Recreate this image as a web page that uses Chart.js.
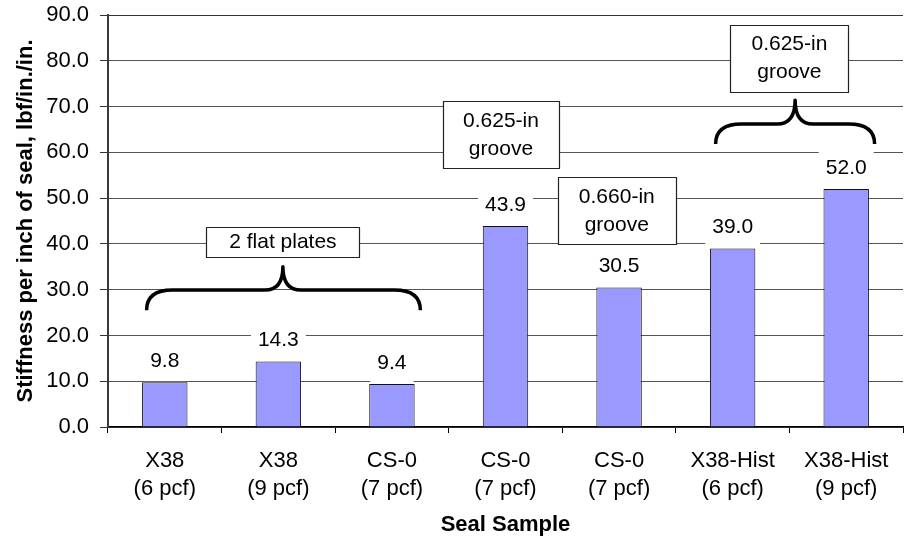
<!DOCTYPE html>
<html>
<head>
<meta charset="utf-8">
<script src="https://cdn.jsdelivr.net/npm/chart.js@4.4.1/dist/chart.umd.min.js"></script>
<style>
  html, body { margin: 0; padding: 0; background: #fff; }
  #wrap { width: 904px; height: 539px; }
</style>
</head>
<body>
<div id="wrap"><canvas id="chart"></canvas></div>
<script>
// Chart data
const categories = [
    ['X38', '(6 pcf)'],
    ['X38', '(9 pcf)'],
    ['CS-0', '(7 pcf)'],
    ['CS-0', '(7 pcf)'],
    ['CS-0', '(7 pcf)'],
    ['X38-Hist', '(6 pcf)'],
    ['X38-Hist', '(9 pcf)']
];
const stiffness = [9.8, 14.3, 9.4, 43.9, 30.5, 39.0, 52.0];
const yMin = 0;
const yMax = 90;
const yStep = 10;

// Text boxes and braces (x in category units, y in axis units)
const notes = [
    { lines: ['2 flat plates'], x: 1.04, y: 40.4, w: 153, h: 30 },
    { lines: ['0.625-in', 'groove'], x: 2.96, y: 63.8, w: 116, h: 67 },
    { lines: ['0.660-in', 'groove'], x: 3.98, y: 47.2, w: 118, h: 67 },
    { lines: ['0.625-in', 'groove'], x: 5.5, y: 80.6, w: 118, h: 67 }
];
const braces = [
    { from: -0.16, to: 2.25, tip: 1.04, yEnd: 25.5, yMid: 29.9, yTip: 35.0 },
    { from: 4.85, to: 6.25, tip: 5.55, yEnd: 61.8, yMid: 66.2, yTip: 71.4 }
];

const FONT = "'Liberation Sans', Arial, sans-serif";

// Value labels above bars, on a white patch that hides the gridlines
const valueLabels = {
    id: 'valueLabels',
    afterDatasetsDraw(chart) {
        const ctx = chart.ctx;
        const meta = chart.getDatasetMeta(0);
        ctx.save();
        ctx.font = '21px ' + FONT;
        ctx.textAlign = 'center';
        ctx.textBaseline = 'middle';
        meta.data.forEach((bar, i) => {
            const txt = stiffness[i].toFixed(1);
            const w = ctx.measureText(txt).width + 14;
            ctx.fillStyle = '#fff';
            ctx.fillRect(bar.x - w / 2, bar.y - 40, w, 39);
            ctx.fillStyle = '#000';
            ctx.fillText(txt, bar.x, bar.y - 21);
        });
        ctx.restore();
    }
};

const notesPlugin = {
    id: 'notes',
    afterDraw(chart) {
        const ctx = chart.ctx;
        const xs = chart.scales.x, ys = chart.scales.y;
        ctx.save();

        // braces
        ctx.strokeStyle = '#000';
        ctx.lineWidth = 3.5;
        ctx.lineJoin = 'round';
        braces.forEach(b => {
            const x0 = xs.getPixelForValue(b.from);
            const x1 = xs.getPixelForValue(b.to);
            const xt = xs.getPixelForValue(b.tip);
            const yE = ys.getPixelForValue(b.yEnd);
            const yM = ys.getPixelForValue(b.yMid);
            const yT = ys.getPixelForValue(b.yTip);
            ctx.beginPath();
            ctx.moveTo(x0, yE);
            ctx.quadraticCurveTo(x0, yM, x0 + 26, yM);
            ctx.lineTo(xt - 18, yM);
            ctx.quadraticCurveTo(xt, yM, xt, yT);
            ctx.quadraticCurveTo(xt, yM, xt + 18, yM);
            ctx.lineTo(x1 - 26, yM);
            ctx.quadraticCurveTo(x1, yM, x1, yE);
            ctx.stroke();
        });

        // boxes
        ctx.font = '21px ' + FONT;
        ctx.textAlign = 'center';
        ctx.textBaseline = 'middle';
        ctx.lineWidth = 1.2;
        notes.forEach(n => {
            const cx = xs.getPixelForValue(n.x);
            const cy = ys.getPixelForValue(n.y);
            const left = Math.round(cx - n.w / 2) + 0.5;
            const top = Math.round(cy - n.h / 2) + 0.5;
            ctx.fillStyle = '#fff';
            ctx.fillRect(left, top, n.w, n.h);
            ctx.strokeStyle = '#222';
            ctx.strokeRect(left, top, n.w, n.h);
            ctx.fillStyle = '#000';
            const lh = 28;
            const startY = cy - (n.lines.length - 1) * lh / 2;
            n.lines.forEach((t, k) => ctx.fillText(t, cx, startY + k * lh));
        });
        ctx.restore();
    }
};

// keep the plot box where the reference has it
const noPad = scale => {
    scale.paddingTop = 0;
    scale.paddingBottom = 0;
    scale.paddingLeft = 0;
    scale.paddingRight = 0;
};

new Chart(document.getElementById('chart'), {
    type: 'bar',
    data: {
        labels: categories,
        datasets: [{
            data: stiffness,
            backgroundColor: '#9999ff',
            borderColor: '#111',
            borderWidth: 1,
            borderSkipped: 'bottom',
            barPercentage: 0.4,
            categoryPercentage: 1.0
        }]
    },
    options: {
        responsive: true,
        maintainAspectRatio: false,
        animation: false,
        layout: { padding: { top: 15, right: 1, bottom: 0, left: 0 } },
        plugins: {
            legend: { display: false },
            tooltip: { enabled: false }
        },
        scales: {
            x: {
                afterFit: scale => { scale.height = 112; noPad(scale); },
                grid: {
                    offset: true,
                    drawOnChartArea: false,
                    tickLength: 6,
                    tickColor: '#000'
                },
                border: { color: '#000', width: 1.5 },
                ticks: {
                    color: '#000',
                    padding: 14,
                    maxRotation: 0,
                    autoSkip: false,
                    font: { family: FONT, size: 22, lineHeight: 1.27 }
                },
                title: {
                    display: true,
                    text: 'Seal Sample',
                    color: '#000',
                    padding: { top: 0, bottom: 1 },
                    font: { family: FONT, size: 22, weight: 'bold' }
                }
            },
            y: {
                min: yMin,
                max: yMax,
                afterFit: scale => { scale.width = 108; noPad(scale); },
                grid: {
                    color: ctx => ctx.tick && ctx.tick.value === yMax ? '#333' : '#555',
                    tickColor: '#333',
                    tickLength: 8,
                    lineWidth: 1
                },
                border: { color: '#3a3a3a', width: 2 },
                ticks: {
                    stepSize: yStep,
                    color: '#000',
                    padding: 11,
                    font: { family: FONT, size: 22 },
                    callback: v => Number(v).toFixed(1)
                },
                title: {
                    display: true,
                    text: 'Stiffness per inch of seal, lbf/in./in.',
                    color: '#000',
                    padding: { top: 13, bottom: 0 },
                    font: { family: FONT, size: 22, weight: 'bold' }
                }
            }
        }
    },
    plugins: [valueLabels, notesPlugin]
});
</script>
</body>
</html>
